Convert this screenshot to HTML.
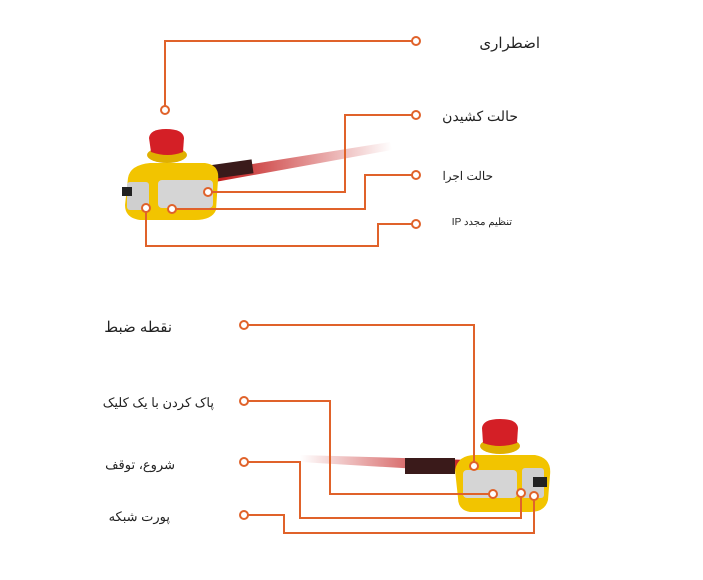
<!DOCTYPE html>
<html><head><meta charset="utf-8"><style>
body{margin:0;background:#fff;}
.t{position:absolute;font-family:"Liberation Sans","Noto Sans CJK SC",sans-serif;color:#222;direction:rtl;white-space:nowrap;}
</style></head><body>
<div style="position:relative;width:703px;height:580px;overflow:hidden">
<svg width="703" height="580" style="position:absolute;left:0;top:0">
<defs>
<linearGradient id="c1" x1="0" x2="1"><stop offset="0" stop-color="#c21818"/><stop offset="1" stop-color="#c21818" stop-opacity="0"/></linearGradient>
<linearGradient id="c2" x1="1" x2="0"><stop offset="0" stop-color="#c21818"/><stop offset="1" stop-color="#c21818" stop-opacity="0"/></linearGradient>
</defs>
<!-- top device -->
<polygon points="215,170 390,142 392,150 215,182" fill="url(#c1)"/>
<rect x="205" y="166" width="48" height="14" fill="#3a1a1a" transform="rotate(-8 205 173)"/>
<path d="M128 178 Q130 165 150 163 L205 163 Q220 165 218 180 L216 210 Q212 220 195 220 L140 220 Q125 218 125 205 Z" fill="#f2c400"/>
<rect x="158" y="180" width="55" height="28" rx="4" fill="#d5d5d5"/>
<rect x="127" y="182" width="22" height="28" rx="3" fill="#cfcfcf"/>
<rect x="122" y="187" width="10" height="9" fill="#222"/>
<ellipse cx="167" cy="155" rx="20" ry="8" fill="#e0b000"/>
<path d="M149 138 Q150 129 166 129 Q183 129 184 138 L183 152 Q168 158 151 152 Z" fill="#d41f26"/>
<!-- bottom device -->
<polygon points="300,455 470,460 470,472 300,462" fill="url(#c2)"/>
<rect x="405" y="458" width="50" height="16" fill="#3a1a1a"/>
<path d="M455 470 Q458 455 475 455 L535 455 Q552 458 550 475 L548 500 Q545 512 530 512 L470 512 Q458 510 458 498 Z" fill="#f2c400"/>
<rect x="463" y="470" width="54" height="28" rx="4" fill="#d5d5d5"/>
<rect x="522" y="468" width="22" height="30" rx="3" fill="#cfcfcf"/>
<rect x="533" y="477" width="14" height="10" fill="#222"/>
<ellipse cx="500" cy="446" rx="20" ry="8" fill="#e0b000"/>
<path d="M482 428 Q483 419 500 419 Q517 419 518 428 L517 443 Q500 449 483 443 Z" fill="#d41f26"/>
<g fill="none" stroke="#e0622a" stroke-width="2">
<polyline points="165,110 165,41 416,41"/>
<polyline points="208,192 345,192 345,115 416,115"/>
<polyline points="172,209 365,209 365,175 416,175"/>
<polyline points="146,208 146,246 378,246 378,224 416,224"/>
<polyline points="244,325 474,325 474,466"/>
<polyline points="244,401 330,401 330,494 493,494"/>
<polyline points="244,462 300,462 300,518 521,518 521,493"/>
<polyline points="244,515 284,515 284,533 534,533 534,496"/>
</g>
<g fill="#fff" stroke="#e0622a" stroke-width="2">
<circle cx="165" cy="110" r="4"/><circle cx="416" cy="41" r="4"/>
<circle cx="208" cy="192" r="4"/><circle cx="416" cy="115" r="4"/>
<circle cx="172" cy="209" r="4"/><circle cx="416" cy="175" r="4"/>
<circle cx="146" cy="208" r="4"/><circle cx="416" cy="224" r="4"/>
<circle cx="244" cy="325" r="4"/><circle cx="474" cy="466" r="4"/>
<circle cx="244" cy="401" r="4"/><circle cx="493" cy="494" r="4"/>
<circle cx="244" cy="462" r="4"/><circle cx="521" cy="493" r="4"/>
<circle cx="244" cy="515" r="4"/><circle cx="534" cy="496" r="4"/>
</g>
</svg>
<div class="t" style="right:163px;top:34px;font-size:15px">اضطراری</div>
<div class="t" style="right:185px;top:108px;font-size:14px">حالت کشیدن</div>
<div class="t" style="right:210px;top:169px;font-size:12px">حالت اجرا</div>
<div class="t" style="right:191px;top:217px;font-size:10px">تنظیم مجدد IP</div>
<div class="t" style="right:531px;top:318px;font-size:15px">نقطه ضبط</div>
<div class="t" style="right:489px;top:395px;font-size:13px">پاک کردن با یک کلیک</div>
<div class="t" style="right:528px;top:457px;font-size:13px">شروع، توقف</div>
<div class="t" style="right:533px;top:509px;font-size:13px">پورت شبکه</div>
</div>
</body></html>
